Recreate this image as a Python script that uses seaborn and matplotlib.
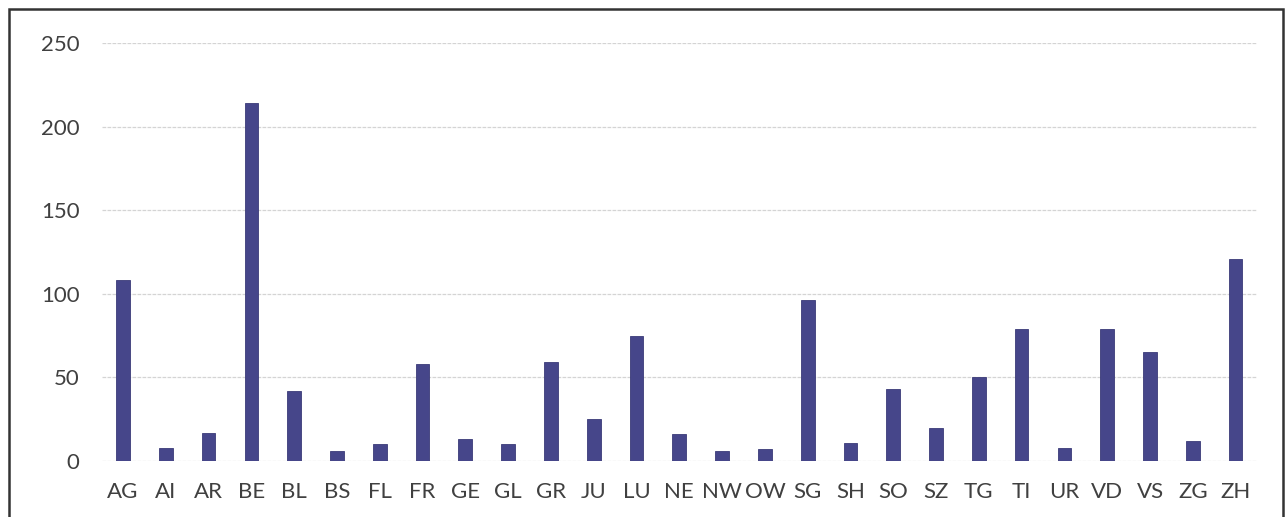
import matplotlib
matplotlib.use("Agg")
import matplotlib.pyplot as plt
import seaborn as sns
import pandas as pd
from matplotlib.patches import Rectangle

sns.set_theme(style="white")
plt.rcParams['font.family'] = ['Lato', 'DejaVu Sans']

# cantons and counts
cantons = ["AG", "AI", "AR", "BE", "BL", "BS", "FL", "FR", "GE", "GL", "GR", "JU", "LU", "NE",
           "NW", "OW", "SG", "SH", "SO", "SZ", "TG", "TI", "UR", "VD", "VS", "ZG", "ZH"]
counts = [108, 8, 17, 214, 42, 6, 10, 58, 13, 10, 59, 25, 75, 16,
          6, 7, 96, 11, 43, 20, 50, 79, 8, 79, 65, 12, 121]
y_ticks = [0, 50, 100, 150, 200, 250]

df = pd.DataFrame({"canton": cantons, "count": counts})

W, H = 1286, 517
fig = plt.figure(figsize=(W / 100, H / 100), dpi=100)
ax = fig.add_axes([101.6 / W, 56 / H, (1257 - 101.6) / W, 418 / H])

sns.barplot(data=df, x="canton", y="count", ax=ax, color="#46468A", width=0.32,
            saturation=1, edgecolor="#3a3a78", linewidth=0.6, zorder=3)

ax.set_ylim(0, 250)
ax.set_xlim(-0.5, len(cantons) - 0.5)
ax.set_yticks(y_ticks)
ax.yaxis.grid(True, color="#d4d4d4", linewidth=0.9, linestyle=(0, (3, 1)))
ax.set_axisbelow(True)
for s in ax.spines.values():
    s.set_visible(False)
ax.set_xlabel("")
ax.set_ylabel("")
ax.tick_params(axis="both", length=0, labelsize=16, labelcolor="#404040")
ax.tick_params(axis="x", pad=15)
ax.tick_params(axis="y", pad=16)

# outer frame (bottom edge is cropped in the reference)
fig.add_artist(Rectangle((9 / W, -0.05), (1283 - 9) / W, (H - 9) / H + 0.05,
                         transform=fig.transFigure, fill=False,
                         edgecolor="#333333", linewidth=1.8))

fig.savefig("out.png", dpi=100)
